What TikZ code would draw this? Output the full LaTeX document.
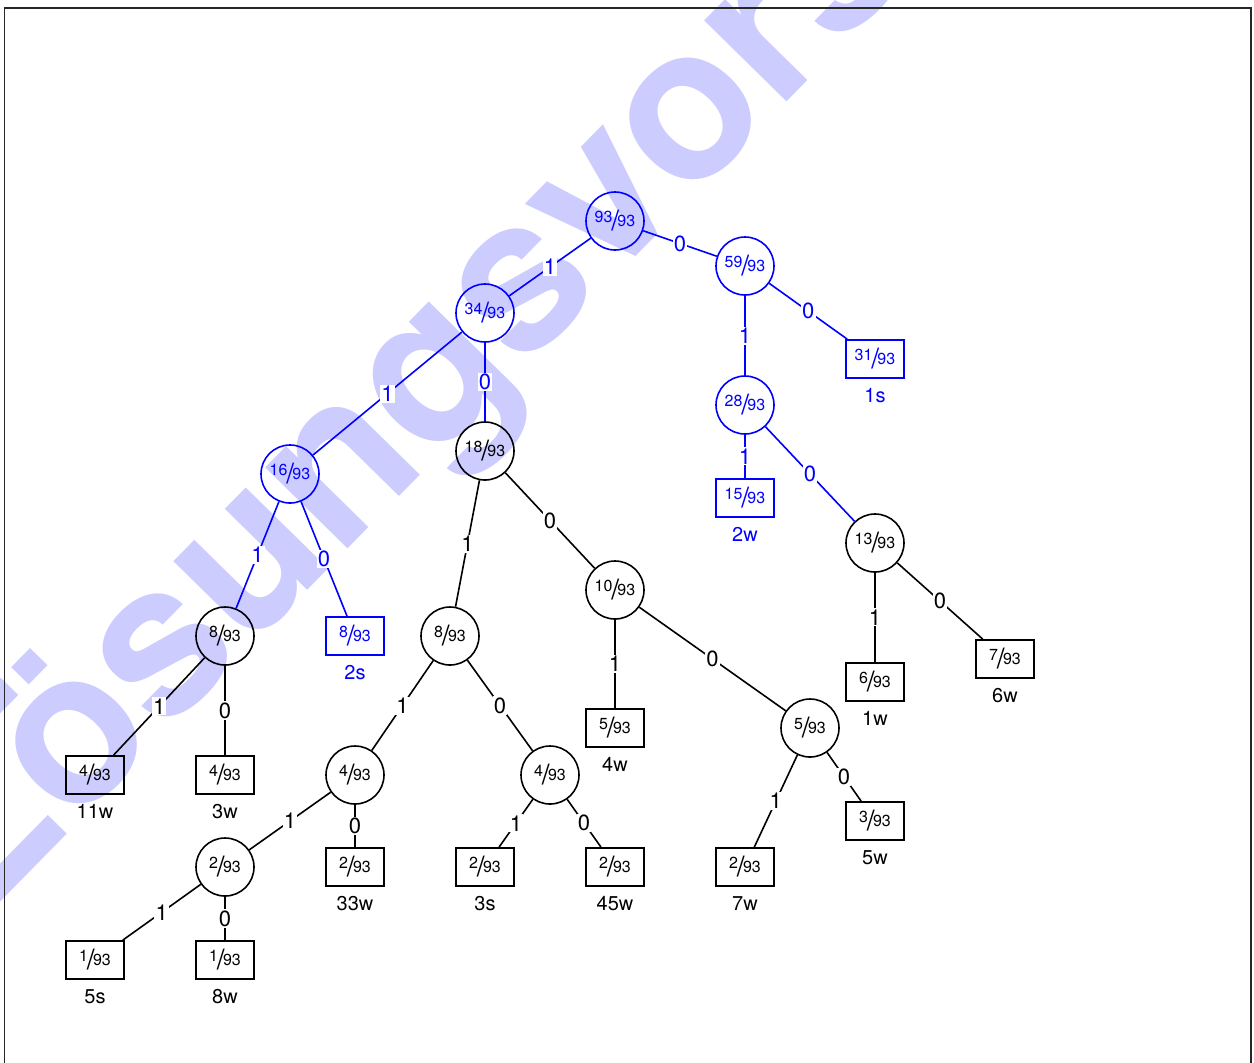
\documentclass[tikz,border=0pt]{standalone}
\usepackage{fontspec}
\setmainfont{TeX Gyre Heros}
\newcommand{\hfr}[2]{\raisebox{2pt}{\fontsize{8}{9}\selectfont#1}\kern-0.6pt\raisebox{-2.3pt}{\fontsize{14}{14}\selectfont/}\kern-0.8pt{\fontsize{8}{9}\selectfont#2}}
\tikzset{
  cn/.style={circle, draw, line width=0.8pt, minimum size=29pt, inner sep=0pt},
  bn/.style={rectangle, draw, line width=0.9pt, minimum width=29pt, minimum height=19pt, inner sep=0pt},
  el/.style={fill=white, inner sep=0.6pt, font=\fontsize{11}{11}\selectfont},
  lf/.style={font=\fontsize{10}{12}\selectfont, inner sep=0pt},
  ed/.style={line width=0.8pt},
  hl/.style={draw=blue, text=blue},
  wm/.style={rotate=45.5, text=blue!20, inner sep=0pt, font=\fontsize{107}{107}\selectfont\bfseries},
  frame/.style={line width=0.6pt, black!85}
}
\begin{document}
\begin{tikzpicture}[x=0.5pt,y=-0.5pt]
\useasboundingbox (0,0) rectangle (1254,1062);
\node[wm] (wm) at (607,207) {Lösungsvorschlag};
\draw[frame] (4.5,1080) -- (4.5,8) -- (1251,8) -- (1251,1080);

% inner nodes
\node[cn,hl] (r) at (615,221) {\hfr{93}{93}};
\node[cn,hl] (a) at (745,266) {\hfr{59}{93}};
\node[cn,hl] (b) at (745,405) {\hfr{28}{93}};
\node[cn] (c) at (875,543) {\hfr{13}{93}};
\node[cn,hl] (d) at (485,313) {\hfr{34}{93}};
\node[cn,hl] (e) at (290,474) {\hfr{16}{93}};
\node[cn] (e1) at (225,636) {\hfr{8}{93}};
\node[cn] (f) at (485,451) {\hfr{18}{93}};
\node[cn] (g) at (450,636) {\hfr{8}{93}};
\node[cn] (h) at (615,590) {\hfr{10}{93}};
\node[cn] (h0) at (810,728) {\hfr{5}{93}};
\node[cn] (g1) at (355,775) {\hfr{4}{93}};
\node[cn] (g0) at (550,775) {\hfr{4}{93}};
\node[cn] (g11) at (225,867) {\hfr{2}{93}};

% leaves
\node[bn,hl] (a0) at (875,359) {\hfr{31}{93}};
\node[bn,hl] (b1) at (745,498) {\hfr{15}{93}};
\node[bn] (c1) at (875,682) {\hfr{6}{93}};
\node[bn] (c0) at (1005,659) {\hfr{7}{93}};
\node[bn,hl] (e0) at (355,636) {\hfr{8}{93}};
\node[bn] (e11) at (95,775) {\hfr{4}{93}};
\node[bn] (e10) at (225,775) {\hfr{4}{93}};
\node[bn] (h1) at (615,728) {\hfr{5}{93}};
\node[bn] (h01) at (745,867) {\hfr{2}{93}};
\node[bn] (h00) at (875,821) {\hfr{3}{93}};
\node[bn] (g10) at (355,867) {\hfr{2}{93}};
\node[bn] (g01) at (485,867) {\hfr{2}{93}};
\node[bn] (g00) at (615,867) {\hfr{2}{93}};
\node[bn] (g111) at (95,960) {\hfr{1}{93}};
\node[bn] (g110) at (225,960) {\hfr{1}{93}};

% leaf labels
\node[lf,text=blue] (la0) at (875,395.5) {1s};
\node[lf,text=blue] (lb1) at (745,534.5) {2w};
\node[lf,text=blue] (le0) at (355,672.5) {2s};
\node[lf] (lc1) at (875,718.5) {1w};
\node[lf] (lc0) at (1005,695.5) {6w};
\node[lf] (le11) at (95,811.5) {11w};
\node[lf] (le10) at (225,811.5) {3w};
\node[lf] (lh1) at (615,764.5) {4w};
\node[lf] (lh01) at (745,903.5) {7w};
\node[lf] (lh00) at (875,857.5) {5w};
\node[lf] (lg10) at (355,903.5) {33w};
\node[lf] (lg01) at (485,903.5) {3s};
\node[lf] (lg00) at (615,903.5) {45w};
\node[lf] (lg111) at (95,996.5) {5s};
\node[lf] (lg110) at (225,996.5) {8w};

% blue edges
\draw[ed,blue] (r) -- node[el,text=blue] {1} (d);
\draw[ed,blue] (r) -- node[el,text=blue] {0} (a);
\draw[ed,blue] (a) -- node[el,text=blue] {1} (b);
\draw[ed,blue] (a) -- node[el,text=blue] {0} (a0);
\draw[ed,blue] (b) -- node[el,text=blue] {1} (b1);
\draw[ed,blue] (b) -- node[el,text=blue] {0} (c);
\draw[ed,blue] (d) -- node[el,text=blue] {1} (e);
\draw[ed,blue] (d) -- node[el,text=blue] {0} (f);
\draw[ed,blue] (e) -- node[el,text=blue] {1} (e1);
\draw[ed,blue] (e) -- node[el,text=blue] {0} (e0);

% black edges
\draw[ed] (c) -- node[el] {1} (c1);
\draw[ed] (c) -- node[el] {0} (c0);
\draw[ed] (e1) -- node[el] {1} (e11);
\draw[ed] (e1) -- node[el] {0} (e10);
\draw[ed] (f) -- node[el] {1} (g);
\draw[ed] (f) -- node[el] {0} (h);
\draw[ed] (h) -- node[el] {1} (h1);
\draw[ed] (h) -- node[el] {0} (h0);
\draw[ed] (h0) -- node[el] {1} (h01);
\draw[ed] (h0) -- node[el] {0} (h00);
\draw[ed] (g) -- node[el] {1} (g1);
\draw[ed] (g) -- node[el] {0} (g0);
\draw[ed] (g1) -- node[el] {1} (g11);
\draw[ed] (g1) -- node[el] {0} (g10);
\draw[ed] (g0) -- node[el] {1} (g01);
\draw[ed] (g0) -- node[el] {0} (g00);
\draw[ed] (g11) -- node[el] {1} (g111);
\draw[ed] (g11) -- node[el] {0} (g110);
\end{tikzpicture}
\end{document}
